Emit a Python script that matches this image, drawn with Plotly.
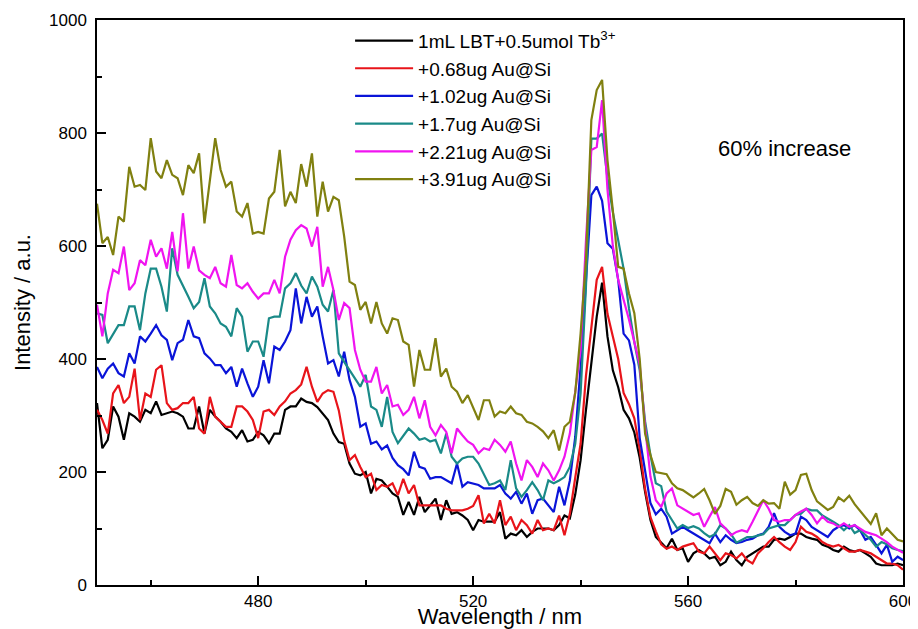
import plotly.graph_objects as go

wavelength = list(range(450, 601))

black_lbt = [322,242,257,316,298,257,304,298,289,310,
             304,325,301,304,307,304,298,277,277,316,
             268,310,298,289,277,271,260,274,254,257,
             271,265,251,268,268,310,316,316,330,324,
             322,315,303,292,268,253,250,215,197,194,
             200,162,188,185,174,162,156,124,147,124,
             156,129,141,153,115,150,126,129,123,115,
             97,115,112,112,112,129,82,91,88,97,
             85,94,100,100,100,97,106,123,118,160,
             221,310,398,475,535,440,380,350,310,295,
             270,225,165,115,85,74,65,82,62,65,
             41,56,62,56,47,50,35,41,59,44,
             35,50,56,62,68,68,80,82,80,85,
             91,91,85,82,80,71,68,62,59,68,
             62,59,62,56,50,38,35,35,35,38,35]

red_068 = [310,292,268,339,354,322,333,383,292,339,
           333,381,389,322,310,313,322,322,333,277,
           268,333,298,289,280,280,316,316,307,292,
           260,307,310,301,316,325,339,345,355,386,
           351,324,339,345,342,309,256,221,230,209,
           191,197,168,177,174,180,159,188,162,177,
           141,141,141,141,141,135,132,132,132,135,
           140,159,109,126,109,150,106,121,97,115,
           106,91,115,97,100,97,123,88,126,190,
           250,370,460,540,563,480,440,400,340,320,
           295,240,170,120,95,72,64,68,62,68,
           71,74,59,56,68,56,44,56,53,47,
           56,44,38,56,65,76,85,76,68,62,
           76,103,94,91,85,76,71,68,71,65,
           59,59,62,59,56,50,44,38,38,35,27]

blue_102 = [386,366,383,392,375,369,410,392,440,431,
            445,460,442,434,398,428,434,469,440,437,
            410,401,389,389,375,386,351,383,357,333,
            351,398,357,422,416,431,451,525,463,510,
            475,493,440,392,398,369,413,363,333,280,
            286,250,254,240,247,225,212,205,194,236,
            209,206,188,191,191,185,180,215,174,182,
            180,177,171,171,171,177,162,153,165,144,
            162,126,150,153,141,129,174,141,185,262,
            386,546,690,705,680,605,595,540,445,433,
            390,260,200,145,125,135,121,91,97,103,
            97,91,85,80,74,91,76,88,80,74,
            76,80,82,88,91,103,127,103,94,88,
            91,121,115,103,97,91,85,97,103,106,
            100,106,97,80,85,71,56,71,41,50,44]

teal_17 = [481,478,428,445,460,460,493,493,451,516,
           560,560,528,484,596,549,528,510,490,501,
           543,493,481,463,457,440,490,475,413,431,
           431,404,472,475,475,525,534,552,530,516,
           546,528,496,484,522,410,395,381,366,351,
           372,316,310,280,333,271,251,263,277,268,
           257,260,254,257,233,268,227,215,224,227,
           227,215,197,177,180,185,168,221,171,156,
           168,182,168,150,185,180,185,191,209,250,
           339,528,790,790,799,720,660,612,560,490,
           430,380,290,230,180,175,130,115,100,106,
           101,104,100,92,85,90,106,100,90,75,
           80,85,85,88,90,100,103,106,106,115,
           124,126,135,132,132,123,118,112,106,97,
           106,92,97,88,80,68,76,72,65,62,60]

magenta_221 = [496,440,516,558,552,599,522,534,575,566,
               611,581,596,560,625,555,658,560,599,557,
               549,543,563,534,528,584,531,525,534,519,
               507,516,516,540,516,581,611,628,637,631,
               599,634,528,563,522,469,499,490,416,381,
               360,360,386,339,354,316,319,301,310,333,
               295,327,280,265,283,271,233,277,265,254,
               248,233,242,239,257,248,236,254,215,185,
               221,209,191,215,203,185,203,227,268,340,
               416,610,770,775,858,700,600,540,505,470,
               430,390,280,192,150,138,162,171,141,135,
               130,124,127,103,121,138,109,100,88,94,
               97,94,112,130,150,135,115,112,115,115,
               124,130,135,124,109,121,112,109,103,109,
               103,106,100,94,91,88,82,76,68,62,57]

olive_391 = [675,605,616,584,652,643,740,705,708,699,
             791,732,720,752,726,720,690,743,729,764,
             640,717,791,735,705,714,661,652,676,622,
             625,622,684,696,770,670,696,676,745,705,
             764,652,714,661,687,681,617,537,531,487,
             501,463,501,463,445,472,469,431,425,351,
             416,381,381,437,369,383,351,342,322,336,
             313,292,327,327,298,307,304,316,304,301,
             289,286,280,272,260,274,238,280,289,340,
             445,575,823,876,894,752,663,563,560,516,
             481,400,268,230,200,198,196,180,171,168,
             162,155,162,170,150,126,140,170,165,142,
             150,156,145,140,150,144,145,135,183,160,
             168,195,197,168,148,140,133,138,155,148,
             158,143,132,120,108,127,88,100,90,80,77]

series_names = ["1mL LBT+0.5umol Tb<sup>3+</sup>", "+0.68ug Au@Si", "+1.02ug Au@Si",
                "+1.7ug Au@Si", "+2.21ug Au@Si", "+3.91ug Au@Si"]
series_values = [black_lbt, red_068, blue_102, teal_17, magenta_221, olive_391]
series_colors = ["#000000", "#e8141a", "#0a14d8", "#1a8a88", "#f014f0", "#808010"]

x_ticks = [480, 520, 560, 600]
y_ticks = [0, 200, 400, 600, 800, 1000]

fig = go.Figure()
for name, vals, col in zip(series_names, series_values, series_colors):
    fig.add_trace(go.Scatter(x=wavelength, y=vals, mode="lines", name=name,
                             line=dict(color=col, width=2.2)))

font_family = "Liberation Sans, Arial, sans-serif"
axis_common = dict(showline=True, linecolor="black", linewidth=1.5, mirror=True,
                   ticks="inside", ticklen=9, tickwidth=1.5, tickcolor="black",
                   showgrid=False, zeroline=False, automargin=False,
                   tickfont=dict(family=font_family, size=17, color="black"))

fig.update_xaxes(range=[450, 600], tickvals=x_ticks,
                 minor=dict(ticks="inside", ticklen=5, tickwidth=1.5, tickcolor="black", dtick=20, tick0=440),
                 title=dict(text="Wavelength / nm", font=dict(family=font_family, size=22, color="black"), standoff=0),
                 **axis_common)
fig.update_yaxes(range=[0, 1000], tickvals=y_ticks, ticklabelstandoff=5,
                 minor=dict(ticks="inside", ticklen=5, tickwidth=1.5, tickcolor="black", dtick=100, tick0=0),
                 title=dict(text="Intensity / a.u.", font=dict(family=font_family, size=22, color="black"), standoff=12),
                 **axis_common)

fig.add_annotation(x=578, y=773, xref="x", yref="y", text="60% increase", showarrow=False,
                   font=dict(family=font_family, size=22, color="black"))

fig.update_layout(
    width=910, height=621,
    margin=dict(l=89, r=15, t=12, b=44),
    paper_bgcolor="white", plot_bgcolor="white",
    showlegend=True,
    legend=dict(x=0.314, y=0.997, xanchor="left", yanchor="top",
                bgcolor="rgba(0,0,0,0)", borderwidth=0,
                font=dict(family=font_family, size=19, color="black"),
                tracegroupgap=0, itemwidth=58),
)

fig.write_html("out.html")
